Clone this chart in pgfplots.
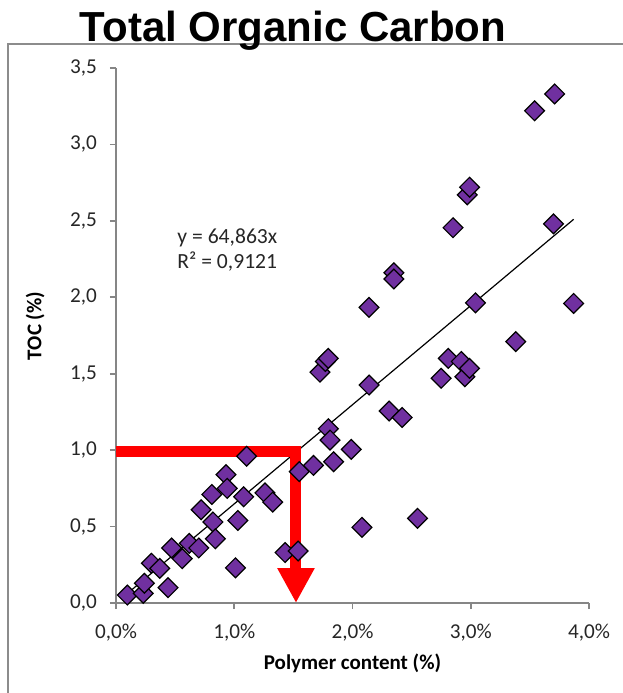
\documentclass[border=0pt]{standalone}
\usepackage{pgfplots}
\pgfplotsset{compat=1.18}
\usepackage{fontspec}
\setmainfont{Carlito}
\newfontfamily\titlefont{Liberation Sans}
\usetikzlibrary{arrows.meta}
\definecolor{axgray}{HTML}{868686}
\definecolor{mypurple}{HTML}{7030A0}
\definecolor{framegray}{HTML}{8C8C8C}
\begin{document}
\begin{tikzpicture}[x=1pt,y=1pt]
\path[use as bounding box] (0,0) rectangle (311.5,346.5);
\draw[framegray, line width=0.9pt] (4,0) -- (4,324.5) -- (312,324.5);
\node[anchor=base, font=\titlefont\bfseries\fontsize{21}{24}\selectfont] at (146.5,325.6) {Total Organic Carbon};
\begin{axis}[
 at={(58pt,45pt)}, anchor=origin, scale only axis, width=236.5pt, height=267.5pt,
 xmin=0, xmax=4, ymin=0, ymax=3.5, clip=false,
 axis lines=left, axis line style={axgray, line width=0.8pt, -},
 xtick={0,1,2,3,4}, xticklabels={{0,0\%},{1,0\%},{2,0\%},{3,0\%},{4,0\%}},
 ytick={0,0.5,1,1.5,2,2.5,3,3.5}, yticklabels={{0,0},{0,5},{1,0},{1,5},{2,0},{2,5},{3,0},{3,5}},
 tick align=outside, major tick length=3pt, tick style={axgray, line width=0.8pt},
 ticklabel style={font=\fontsize{10.6}{12}\selectfont, text=black!85},
 xticklabel style={yshift=-4pt},
 yticklabel style={xshift=-3pt},
 xlabel={Polymer content (\%)}, ylabel={TOC (\%)},
 every axis x label/.style={at={(axis description cs:0.5,-0.112)}, anchor=center, font=\bfseries\fontsize{10.5}{12}\selectfont},
 every axis y label/.style={at={(axis description cs:-0.171,0.518)}, anchor=center, rotate=90, font=\bfseries\fontsize{10.5}{12}\selectfont},
]
\addplot[black, line width=0.6pt] coordinates {(0.096,0.0623) (3.87,2.510)};
\addplot[only marks, mark=square*, mark size=3.5pt, mark options={rotate=45, fill=mypurple, draw=black, line width=0.6pt}] coordinates {
(0.096,0.052) (0.23,0.063) (0.24,0.129) (0.30,0.26) (0.37,0.227) (0.44,0.10)
(0.47,0.36) (0.56,0.29) (0.62,0.39) (0.70,0.36) (0.72,0.61) (0.81,0.71)
(0.82,0.53) (0.84,0.42) (0.93,0.84) (0.94,0.75) (1.01,0.23) (1.03,0.54)
(1.08,0.695) (1.105,0.96) (1.26,0.72) (1.325,0.66) (1.43,0.33) (1.54,0.34)
(1.55,0.86) (1.67,0.90) (1.725,1.51) (1.77,1.58) (1.795,1.60) (1.795,1.14)
(1.81,1.066) (1.84,0.924) (1.99,1.005) (2.08,0.495) (2.14,1.426) (2.14,1.934)
(2.31,1.256) (2.35,2.16) (2.35,2.12) (2.42,1.214) (2.55,0.554) (2.75,1.47)
(2.81,1.60) (2.85,2.455) (2.92,1.58) (2.95,1.48) (2.97,2.67) (2.99,1.535)
(2.99,2.72) (3.04,1.964) (3.38,1.71) (3.54,3.22) (3.70,2.48) (3.71,3.33)
(3.87,1.96)};
\addplot[red, line width=5.5pt, line join=miter, -{Triangle[width=17.5pt,length=17.5pt]}] coordinates {(0,0.988) (1.522,0.988) (1.522,0)};
\node[anchor=base west, font=\fontsize{10.8}{12}\selectfont, text=black!85] at (axis cs:0.46,2.35) {y = 64,863x};
\node[anchor=base west, font=\fontsize{10.8}{12}\selectfont, text=black!85] at (axis cs:0.46,2.19) {R² = 0,9121};
\end{axis}
\end{tikzpicture}
\end{document}
